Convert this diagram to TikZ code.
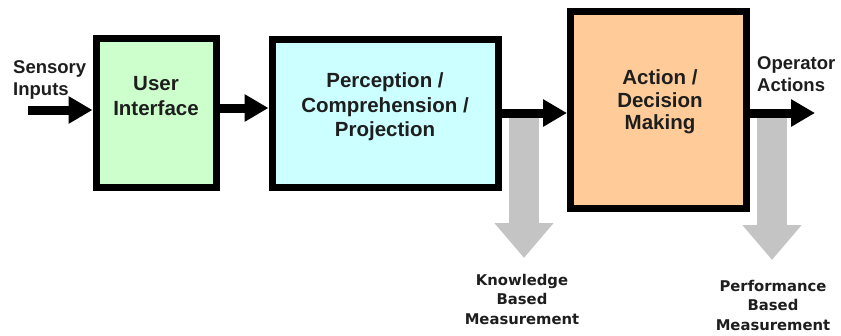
\documentclass[tikz,border=0pt]{standalone}
\usepackage{fontspec}
\setmainfont{Liberation Sans}
\newfontfamily\dvs{DejaVu Sans}
\usetikzlibrary{arrows.meta}
\definecolor{uigreen}{HTML}{CCFFCC}
\definecolor{pccyan}{HTML}{CCFFFF}
\definecolor{adpeach}{HTML}{FFCC99}
\definecolor{garrow}{HTML}{C4C4C4}
\definecolor{txt}{HTML}{1E1E1E}
\tikzset{
  box/.style={draw=black, line width=7pt, minimum width=#1, inner sep=0pt},
  boxtext/.style={text=txt, font=\fontsize{20.5}{24.5}\selectfont\bfseries, align=center, inner sep=0pt},
  sidetext/.style={text=txt, font=\fontsize{18.5}{21.5}\selectfont\bfseries, align=left, inner sep=0pt},
  meastext/.style={text=txt, font=\dvs\fontsize{14.8}{19.5}\selectfont\bfseries, align=center, inner sep=0pt},
  blk/.style={line width=9pt, -{Triangle[length=24pt,width=26pt]}},
  gry/.style={draw=garrow, line width=30pt, -{Triangle[length=35pt,width=57pt]}},
}
\begin{document}
\begin{tikzpicture}[x=1pt,y=-1pt]
\useasboundingbox (0,0) rectangle (841,335);
% boxes
\node[box=120pt, fill=uigreen, minimum height=149pt] (ui) at (156,112.5) {};
\node[box=226pt, fill=pccyan, minimum height=148pt] (pc) at (385,113) {};
\node[box=176pt, fill=adpeach, minimum height=197pt] (ad) at (658.5,110) {};
% box texts
\node[boxtext] (uit) at (156,96) {User\\Interface};
\node[boxtext] (pct) at (385,107) {Perception /\\Comprehension /\\Projection};
\node[boxtext, font=\fontsize{20.5}{22.5}\selectfont\bfseries] (adt) at (660,102) {Action /\\Decision\\Making};
% side labels
\node[sidetext, anchor=west] (sens) at (13,80) {Sensory\\Inputs};
\node[sidetext, anchor=west] (oper) at (757,74) {Operator\\Actions};
% coordinates for arrows
\coordinate (sin) at (28,110);
\coordinate (a1) at (218,108);
\coordinate (a2) at (500,113);
\coordinate (a3) at (750,113);
\coordinate (aout) at (815,113);
\coordinate (k1) at (524,118);
\coordinate (k2) at (524,258);
\coordinate (p1) at (772,118);
\coordinate (p2) at (772,260);
% gray measurement arrows
\draw[gry] (k1) -- (k2);
\draw[gry] (p1) -- (p2);
% black flow arrows
\draw[blk] (sin) -- (sin -| ui.west);
\draw[blk] (a1) -- (a1 -| pc.west);
\draw[blk] (a2) -- (a2 -| ad.west);
\draw[blk] (a3) -- (aout);
% measurement labels
\node[meastext] (kbm) at (522,299) {Knowledge\\Based\\Measurement};
\node[meastext] (pbm) at (773,305) {Performance\\Based\\Measurement};
\end{tikzpicture}
\end{document}
